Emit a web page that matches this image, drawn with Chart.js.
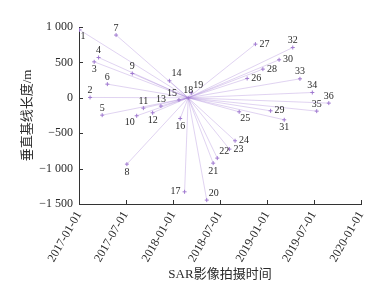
<!DOCTYPE html>
<html><head><meta charset="utf-8">
<script src="https://cdn.jsdelivr.net/npm/chart.js@4.4.1/dist/chart.umd.min.js"></script>
<style>html,body{margin:0;padding:0;background:#fff;}canvas{display:block;}</style>
</head><body>
<canvas id="c" width="384" height="287"></canvas>
<script>
const imageIds = [1,2,3,4,5,6,7,8,9,10,11,12,13,14,15,16,17,18,19,20,21,22,23,24,25,26,27,28,29,30,31,32,33,34,35,36];
const imageDates = ['2017-01-03','2017-02-13','2017-03-01','2017-03-18','2017-04-01','2017-04-21','2017-05-25','2017-07-06','2017-07-27','2017-08-13','2017-09-08','2017-10-14','2017-11-15','2017-12-18','2018-01-24','2018-01-29','2018-02-15','2018-03-01','2018-03-13','2018-05-12','2018-06-06','2018-06-22','2018-08-08','2018-08-30','2018-09-15','2018-10-16','2018-11-17','2018-12-16','2019-01-15','2019-02-17','2019-03-09','2019-04-11','2019-05-09','2019-06-26','2019-07-13','2019-08-29'];
const baselines = [960,5,508,569,-245,193,886,-937,343,-254,-146,-212,-117,240,-30,-292,-1328,0,70,-1445,-923,-852,-725,-607,-198,273,758,405,-184,537,-311,710,268,75,-188,-75];
const masterId = 18;
const xTickDates = ['2017-01-01','2017-07-01','2018-01-01','2018-07-01','2019-01-01','2019-07-01','2020-01-01'];
const yTickValues = [-1500,-1000,-500,0,500,1000];
const labelPos = ['belowright','above','below','above','above','above','above','below','above','belowleft','above','below','above','aboveright','aboveleft','below','left','above','aboveright','aboveright','below','aboveright','right','right','belowright','right','right','right','right','right','below','above','above','above','above','above'];

const SERIF = '"Liberation Serif","Noto Sans CJK SC",serif';
const TXT = '#2a2a2a';
const LINE = 'rgba(165,130,215,0.5)';
const PT = '#a07ad0';

const t = s => Date.parse(s);
const points = imageIds.map((id,i)=>({x:t(imageDates[i]), y:baselines[i]}));
const mi = imageIds.indexOf(masterId);
const master = points[mi];

const datasets = [{
  type:'scatter', data: points, pointStyle:'cross', pointRadius:2, pointBorderWidth:1,
  borderColor: PT, backgroundColor: PT, showLine:false
}];
points.forEach((p,i)=>{
  if (i===mi) return;
  datasets.push({type:'line', data:[master,p], borderColor:LINE, borderWidth:0.7, pointRadius:0, fill:false, tension:0});
});

function fmtY(v){
  const a = Math.abs(v);
  let s = a>=1000 ? Math.floor(a/1000)+' '+String(a%1000).padStart(3,'0') : String(a);
  return (v<0?'\u2212':'')+s;
}

const overlay = {
  id:'overlay',
  afterDatasetsDraw(chart){
    const {ctx, scales:{x,y}, chartArea:a} = chart;
    ctx.save();
    ctx.strokeStyle='#333'; ctx.lineWidth=1;
    xTickDates.forEach(d=>{
      const px=Math.round(x.getPixelForValue(t(d)))+0.5;
      ctx.beginPath(); ctx.moveTo(px,a.bottom); ctx.lineTo(px,a.bottom-4); ctx.stroke();
    });
    yTickValues.forEach(v=>{
      const py=Math.round(y.getPixelForValue(v))+0.5;
      ctx.beginPath(); ctx.moveTo(a.left,py); ctx.lineTo(a.left+4,py); ctx.stroke();
    });
    ctx.font='10px '+SERIF; ctx.fillStyle=TXT;
    const meta = chart.getDatasetMeta(0);
    meta.data.forEach((el,i)=>{
      const pos = labelPos[i]; let dx=0, dy=0, al='center', bl='middle';
      if (pos==='above'){dy=-2; bl='bottom';}
      else if (pos==='below'){dy=3; bl='top';}
      else if (pos==='right'){dx=4; al='left';}
      else if (pos==='left'){dx=-4; al='right';}
      else if (pos==='aboveright'){dx=2; dy=-2; al='left'; bl='bottom';}
      else if (pos==='aboveleft'){dx=-2; dy=-2; al='right'; bl='bottom';}
      else if (pos==='belowleft'){dx=-2; dy=2; al='right'; bl='top';}
      else if (pos==='belowright'){dx=1; dy=2; al='left'; bl='top';}
      ctx.textAlign=al; ctx.textBaseline=bl;
      ctx.fillText(String(imageIds[i]), el.x+dx, el.y+dy);
    });
    ctx.restore();
  }
};

new Chart(document.getElementById('c'), {
  type:'scatter',
  data:{datasets},
  options:{
    responsive:false, animation:false, devicePixelRatio:1,
    layout:{padding:{top:27,right:23,left:0,bottom:0}},
    plugins:{legend:{display:false}, tooltip:{enabled:false}},
    scales:{
      x:{
        type:'linear', min:t('2017-01-01'), max:t('2020-01-01'),
        afterBuildTicks(s){ s.ticks = xTickDates.map(d=>({value:t(d)})); },
        afterFit(s){ s.height = 83; },
        grid:{display:false, drawTicks:false},
        border:{display:true, color:'#333', width:1},
        ticks:{autoSkip:false, minRotation:60, maxRotation:60, padding:5, color:TXT,
          font:{family:SERIF, size:12},
          callback(v){ const i = xTickDates.findIndex(d=>t(d)===v); return i>=0?xTickDates[i]:''; }},
        title:{display:true, text:'SAR影像拍摄时间', color:TXT, font:{family:SERIF, size:13}, padding:{top:0,bottom:5}}
      },
      y:{
        min:-1500, max:1000,
        afterBuildTicks(s){ s.ticks = yTickValues.map(v=>({value:v})); },
        afterFit(s){ s.width = 79; },
        grid:{display:false, drawTicks:false},
        border:{display:true, color:'#333', width:1},
        ticks:{padding:6, color:TXT, font:{family:SERIF, size:12}, callback:v=>fmtY(v)},
        title:{display:true, text:'垂直基线长度/m', color:TXT, font:{family:SERIF, size:13}, padding:{top:20,bottom:0}}
      }
    }
  },
  plugins:[overlay]
});
</script>
</body></html>
